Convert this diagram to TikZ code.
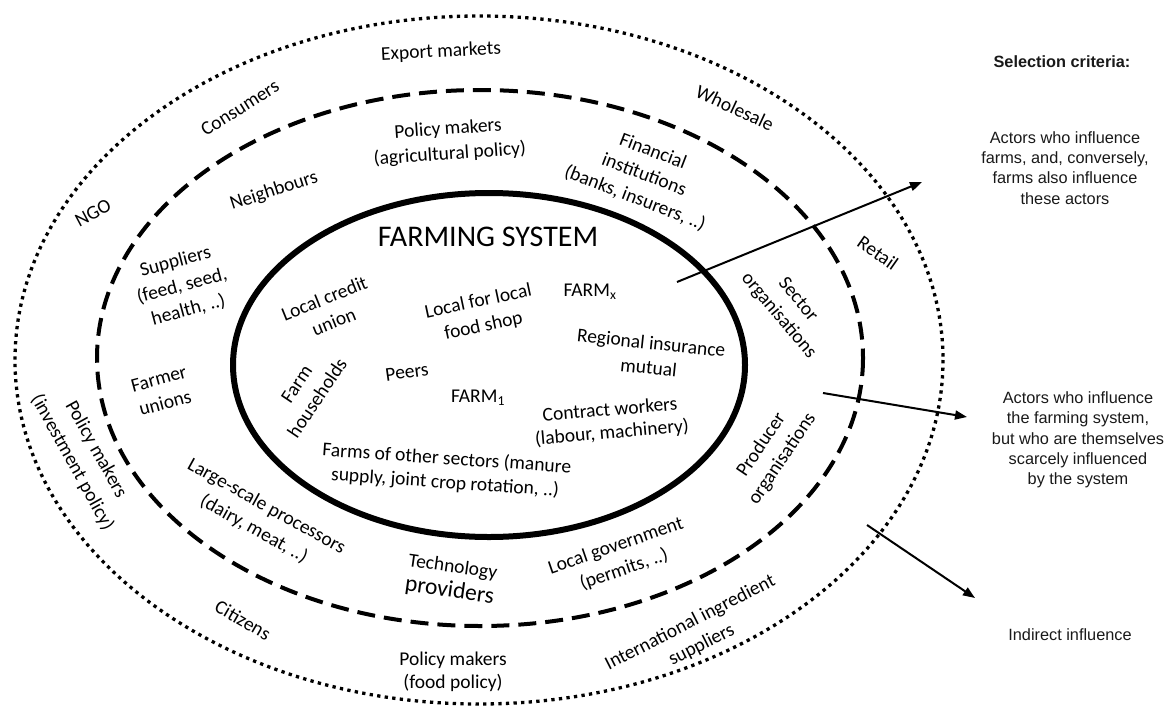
\documentclass[tikz,border=0pt]{standalone}
\usepackage{fontspec}
\setmainfont{Carlito}
\newfontfamily\legendfont{Liberation Sans}
\usetikzlibrary{arrows.meta}
\begin{document}
\begin{tikzpicture}[x=1pt,y=-1pt,
  lbl/.style={font=\fontsize{19.5}{25}\selectfont, align=center, inner sep=0pt},
  leg/.style={font=\legendfont\fontsize{16.3}{20.3}\selectfont, align=center, inner sep=0pt, text=black!90},
  outerring/.style={line width=3.3pt, dash pattern=on 3.3pt off 4.3pt},
  midring/.style={line width=4pt, dash pattern=on 18pt off 9pt},
  innerring/.style={line width=6pt},
  arr/.style={line width=2pt, -{Triangle[length=12pt,width=9pt]}}]
\useasboundingbox (0,0) rectangle (1166,709);
% rings
\draw[outerring] (479,360) ellipse [x radius=464, y radius=344];
\draw[midring] (480,358) ellipse [x radius=383, y radius=268];
\draw[innerring] (489,365) ellipse [x radius=256, y radius=172];
% inner labels
\node[lbl, font=\fontsize{30}{34}\selectfont] (fs) at (488,237) {FARMING SYSTEM};
\node[lbl, rotate=22] (lcu) at (329,310) {Local credit\\union};
\node[lbl, rotate=12] (lfl) at (481,314) {Local for local\\food shop};
\node[lbl] (farmx) at (590,292) {FARM\textsubscript{x}};
\node[lbl, rotate=-6] (rim) at (650,355) {Regional insurance\\mutual};
\node[lbl, rotate=56] (fh) at (307,391) {Farm\\households};
\node[lbl, rotate=8] (peers) at (407,372) {Peers};
\node[lbl] (farm1) at (478,398) {FARM\textsubscript{1}};
\node[lbl, rotate=5, font=\fontsize{19.5}{23}\selectfont] (cw) at (611,422) {Contract workers\\(labour, machinery)};
\node[lbl, rotate=-4, font=\fontsize{19.5}{24}\selectfont] (fos) at (446,471) {Farms of other sectors (manure\\supply, joint crop rotation, ..)};
% middle ring labels
\node[lbl, rotate=18] (neigh) at (274,191) {Neighbours};
\node[lbl, rotate=4] (pma) at (449,142) {Policy makers\\(agricultural policy)};
\node[lbl, rotate=-21] (fin) at (644,175) {Financial\\institutions\\(banks, insurers, ..)};
\node[lbl, rotate=15] (sup) at (182,286) {Suppliers\\(feed, seed,\\health, ..)};
\node[lbl, rotate=15] (fu) at (162,391) {Farmer\\unions};
\node[lbl, rotate=-50] (so) at (788,308) {Sector\\organisations};
\node[lbl, rotate=56] (po) at (772,452) {Producer\\organisations};
\node[lbl, rotate=-29, font=\fontsize{19.5}{26}\selectfont] (lsp) at (260,518) {Large-scale processors\\(dairy, meat, ..)};
\node[lbl, rotate=-8] (tp) at (451,580) {Technology\\{\fontsize{23.5}{26}\selectfont providers}};
\node[lbl, rotate=19] (lg) at (620,558) {Local government\\(permits, ..)};
% outer ring labels
\node[lbl, rotate=3] (em) at (441,52) {Export markets};
\node[lbl, rotate=32] (cons) at (240,108) {Consumers};
\node[lbl, rotate=28] (ngo) at (93,213) {NGO};
\node[lbl, rotate=-25] (whs) at (735,108) {Wholesale};
\node[lbl, rotate=-35] (ret) at (878,253) {Retail};
\node[lbl, rotate=-61, font=\fontsize{19.5}{27}\selectfont] (pmi) at (84,456) {Policy makers\\(investment policy)};
\node[lbl, rotate=-30] (cit) at (243,620) {Citizens};
\node[lbl, font=\fontsize{19.5}{23}\selectfont] (pmf) at (453,672) {Policy makers\\(food policy)};
\node[lbl, rotate=27] (iis) at (696,634) {International ingredient\\suppliers};
% legend
\node[leg, font=\legendfont\bfseries\fontsize{16.3}{20}\selectfont] (sel) at (1062,62) {Selection criteria:};
\node[leg] (c1) at (1065,168) {Actors who influence\\farms, and, conversely,\\farms also influence\\these actors};
\node[leg] (c2) at (1078,440) {Actors who influence\\the farming system,\\but who are themselves\\scarcely influenced\\by the system};
\node[leg] (c3) at (1070,635) {Indirect influence};
% arrows
\coordinate (a1s) at (677,282);
\coordinate (a1e) at (922,182);
\coordinate (a2s) at (823,393);
\coordinate (a2e) at (967,417);
\coordinate (a3s) at (867,525);
\coordinate (a3e) at (975,598);
\draw[arr] (a1s) -- (a1e);
\draw[arr] (a2s) -- (a2e);
\draw[arr] (a3s) -- (a3e);
\end{tikzpicture}
\end{document}
